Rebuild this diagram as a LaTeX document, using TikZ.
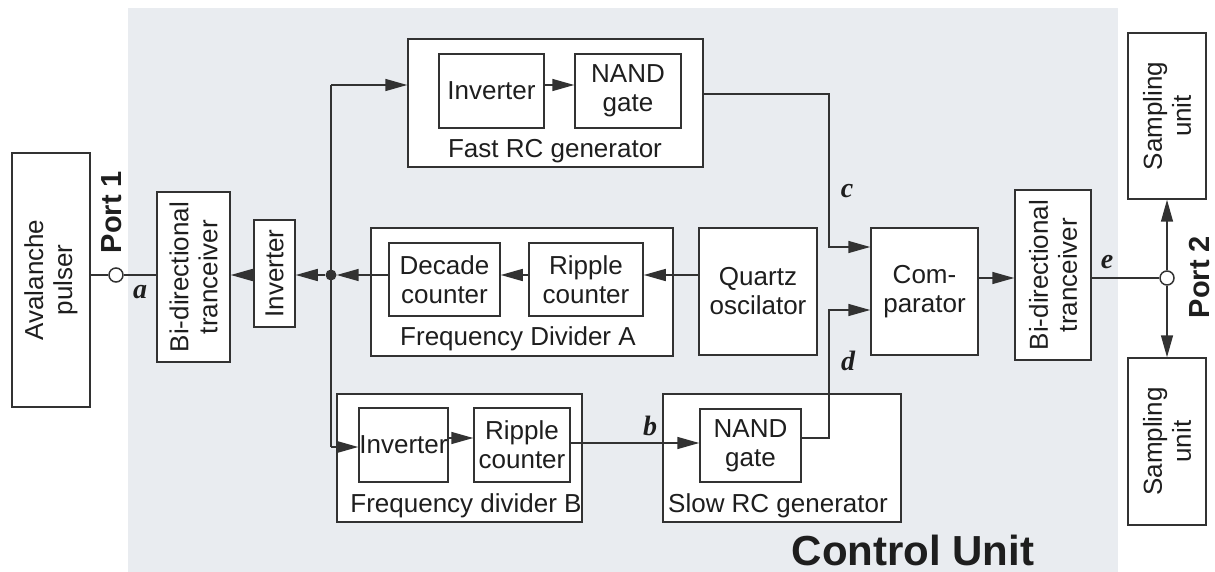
\documentclass[tikz,border=0pt]{standalone}
\usepackage{fontspec}
\setmainfont{Liberation Sans}
\newfontfamily\sigfont{Liberation Serif}
\usetikzlibrary{arrows.meta,positioning,calc}
\definecolor{unitBg}{RGB}{233,236,240}
\definecolor{lineG}{RGB}{50,50,50}
\definecolor{textG}{RGB}{30,30,30}

\begin{document}
\begin{tikzpicture}[
  x=1pt,y=-1pt,
  >={Triangle[length=22pt,width=12pt]},
  blk/.style={draw=lineG,line width=1.5pt,fill=white,inner sep=0pt,text=textG,font=\fontsize{26}{29}\selectfont,align=center},
  vblk/.style={blk,rotate=90},
  caplab/.style={text=textG,font=\fontsize{26}{29}\selectfont},
  sig/.style={text=textG,font=\sigfont\fontsize{28}{30}\selectfont\bfseries\itshape},
  port/.style={text=textG,font=\fontsize{29}{32}\selectfont\bfseries,rotate=90},
  portc/.style={circle,draw=lineG,line width=1.5pt,fill=white,minimum size=14pt,inner sep=0pt},
  jdot/.style={circle,fill=lineG,minimum size=11pt,inner sep=0pt},
  wire/.style={draw=lineG,line width=1.5pt}
]
  \useasboundingbox (0,0) rectangle (1215,572);
  % Control unit area
  \fill[unitBg] (128,8) rectangle (1118,572);
  \node[text=textG,font=\fontsize{42}{44}\selectfont\bfseries,inner sep=0pt] (cu) at (913,550) {Control Unit};

  % Port 1 side
  \node[vblk,minimum width=254,minimum height=78] (aval) at (51,280) {Avalanche\\pulser};
  \node[portc] (p1) at (116,275) {};
  \node[port] (port1) at (112,212) {Port 1};
  \node[sig] (siga) at (140,292) {a};
  \node[vblk,minimum width=170,minimum height=73] (trA) at (193.5,277) {Bi-directional\\tranceiver};
  \node[vblk,minimum width=107,minimum height=41] (invA) at (274.5,273.5) {Inverter};
  \node[jdot] (dot) at (331,275) {};

  % Fast RC generator
  \node[blk,minimum width=295,minimum height=128] (fastrc) at (555.5,103) {};
  \node[blk,minimum width=105,minimum height=74] (invF) at (491.5,91) {Inverter};
  \node[blk,minimum width=106,minimum height=74] (nandF) at (628,91) {NAND\\gate};
  \node[caplab] (fastlab) at (555,151) {Fast RC generator};

  % Frequency divider A and oscillator
  \node[blk,minimum width=302,minimum height=128] (fda) at (522,292) {};
  \node[blk,minimum width=111,minimum height=73] (decA) at (444.5,279.5) {Decade\\counter};
  \node[blk,minimum width=114,minimum height=73] (ripA) at (586,279.5) {Ripple\\counter};
  \node[caplab] (fdalab) at (518,339) {Frequency Divider A};
  \node[blk,minimum width=118,minimum height=127] (quartz) at (758,291.5) {Quartz\\oscilator};
  \node[blk,minimum width=107,minimum height=127] (comp) at (924.5,291.5) {Com-\\parator};

  % Frequency divider B and slow RC generator
  \node[blk,minimum width=245,minimum height=128] (fdb) at (459.5,458) {};
  \node[blk,minimum width=89,minimum height=74] (invB) at (403.5,445) {Inverter};
  \node[blk,minimum width=96,minimum height=74] (ripB) at (522,445) {Ripple\\counter};
  \node[caplab] (fdblab) at (466,506) {Frequency divider B};
  \node[blk,minimum width=238,minimum height=128] (slow) at (782,458) {};
  \node[blk,minimum width=101,minimum height=73] (nandS) at (750.5,445.5) {NAND\\gate};
  \node[caplab] (slowlab) at (778,506) {Slow RC generator};

  % Port 2 side
  \node[vblk,minimum width=170,minimum height=76] (trB) at (1053,275) {Bi-directional\\tranceiver};
  \node[portc] (p2) at (1167,278) {};
  \node[port] (port2) at (1200,277) {Port 2};
  \node[vblk,minimum width=166,minimum height=78] (sampU) at (1167,116) {Sampling\\unit};
  \node[vblk,minimum width=167,minimum height=78] (sampD) at (1167,441.5) {Sampling\\unit};

  % signal labels
  \node[sig] (sigb) at (650,426) {b};
  \node[sig] (sigc) at (847,191) {c};
  \node[sig] (sigd) at (848,361) {d};
  \node[sig] (sige) at (1107,262) {e};

  % wires
  \coordinate (topT) at (331,85);
  \coordinate (botT) at (331,447);
  \coordinate (cTop) at (829,94);
  \coordinate (cBot) at (829,247);
  \coordinate (dTop) at (829,310);
  \coordinate (dBot) at (829,438);
  \coordinate (rowB) at (0,443);
  \coordinate (rowR) at (0,278);

  \draw[wire] (p1) -- (p1 -| aval.south);
  \draw[wire] (trA.north |- p1) -- (p1);
  \draw[wire,->] (invA.north |- dot) -- (trA.south |- dot);
  \draw[wire,->] (dot) -- (invA.south |- dot);
  \draw[wire,->] (decA.west |- dot) -- (dot.east);
  \draw[wire,->] (ripA.west |- dot) -- (decA.east |- dot);
  \draw[wire,->] (quartz.west |- dot) -- (ripA.east |- dot);
  \draw[wire] (topT) -- (botT);
  \draw[wire,->] (topT) -- (topT -| fastrc.west);
  \draw[wire,->] (invF.east |- topT) -- (nandF.west |- topT);
  \draw[wire,->] (botT) -- (botT -| invB.west);
  \draw[wire,->] (invB.east |- dBot) -- (ripB.west |- dBot);
  \draw[wire,->] (ripB.east |- rowB) -- (nandS.west |- rowB);
  \draw[wire,->] (cTop -| fastrc.east) -- (cTop) -- (cBot) -- (cBot -| comp.west);
  \draw[wire,->] (dBot -| nandS.east) -- (dBot) -- (dTop) -- (dTop -| comp.west);
  \draw[wire,->] (comp.east |- rowR) -- (trB.north |- rowR);
  \draw[wire] (trB.south |- p2) -- (p2);
  \draw[wire,->] (p2) -- (sampU.west);
  \draw[wire,->] (p2) -- (sampD.east);
\end{tikzpicture}
\end{document}
